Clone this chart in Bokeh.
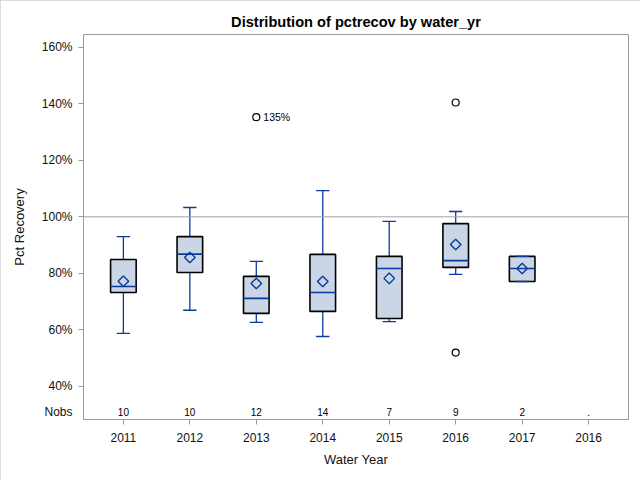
import numpy as np
from bokeh.plotting import figure
from bokeh.models import Range1d, FixedTicker, Span, ColumnDataSource
from bokeh.embed import file_html
from bokeh.resources import INLINE
from bokeh.core.properties import value

# ---- data ----
year_labels = ["2011", "2012", "2013", "2014", "2015", "2016", "2017", "2016"]
positions = [1, 2, 3, 4, 5, 6, 7, 8]
box_pos = [1, 2, 3, 4, 5, 6, 7]
q1 = [73.2, 80.3, 65.8, 66.5, 64.0, 82.1, 77.1]
median = [75.3, 86.8, 71.1, 73.2, 81.7, 84.5, 81.7]
q3 = [84.9, 93.0, 78.9, 86.7, 86.0, 97.6, 86.0]
whisk_lo = [58.7, 66.9, 62.6, 57.6, 62.9, 79.6, 77.1]
whisk_hi = [93.0, 103.3, 84.2, 109.3, 98.4, 101.9, 86.0]
means = [77.2, 85.6, 76.4, 77.1, 78.2, 90.2, 81.7]
out_x = [3, 6, 6]
out_y = [135.3, 140.5, 51.9]
nobs = ["10", "10", "12", "14", "7", "9", "2", "."]
y_ticks = [40, 60, 80, 100, 120, 140, 160]
NOBS_Y = 30.9

BLUE = "#0B3A9E"
FILL = "#CAD5E5"
GRAY = "#9A9A9A"
FONT = "Liberation Sans"
BOXW = 0.385
CAPW = 0.2

p = figure(width=640, height=480, output_backend="svg", toolbar_location=None,
           x_range=Range1d(0.4, 8.6), y_range=Range1d(28.2, 164.6),
           min_border_left=83, min_border_right=12, min_border_top=34, min_border_bottom=61,
           title="Distribution of pctrecov by water_yr")
p.styles = {"outline": "1px solid #CFCFCF", "outline-offset": "-1px"}
p.title.align = "center"
p.title.text_font = FONT
p.title.text_font_size = "14.6px"
p.title.text_font_style = "bold"
p.title.text_color = "black"
p.title.offset = 0
p.title.standoff = 9

p.grid.visible = False
p.outline_line_color = GRAY
p.outline_line_width = 1
p.background_fill_color = "white"
p.border_fill_color = "white"

p.xaxis.ticker = FixedTicker(ticks=positions)
p.xaxis.major_label_overrides = {pos: lab for pos, lab in zip(positions, year_labels)}
# "Nobs" row label is a tick label without a tick mark: major ticks hidden,
# the visible tick marks are the minor ticks at the percentage values
p.yaxis.ticker = FixedTicker(ticks=[NOBS_Y] + y_ticks, minor_ticks=y_ticks)
p.yaxis.major_label_overrides = {NOBS_Y: "Nobs", **{t: f"{t}%" for t in y_ticks}}
for ax in (p.xaxis[0], p.yaxis[0]):
    ax.axis_line_color = GRAY
    ax.major_tick_line_color = GRAY
    ax.major_tick_out = 5
    ax.major_tick_in = 0
    ax.minor_tick_line_color = None
    ax.major_label_text_font = FONT
    ax.major_label_text_font_size = "12px"
    ax.major_label_text_color = "#111111"
    ax.axis_label_text_font = FONT
    ax.axis_label_text_font_size = "13px"
    ax.axis_label_text_font_style = "normal"
    ax.axis_label_text_color = "#111111"
p.yaxis.major_tick_line_color = None
p.yaxis.minor_tick_line_color = GRAY
p.yaxis.minor_tick_out = 5
p.yaxis.minor_tick_in = 0
p.xaxis.axis_label = "Water Year"
p.yaxis.axis_label = "Pct Recovery"
p.xaxis.major_label_standoff = 8
p.xaxis.axis_label_standoff = 7
p.yaxis.major_label_standoff = 6
p.yaxis.axis_label_standoff = 12

# reference line at 100%
p.add_layout(Span(location=100, dimension="width", line_color="#A0A0A0", line_width=1))

src = ColumnDataSource(dict(x=box_pos, q1=q1, med=median, q3=q3, lo=whisk_lo, hi=whisk_hi, mean=means,
                            xl=[x - BOXW / 2 for x in box_pos], xr=[x + BOXW / 2 for x in box_pos],
                            cl=[x - CAPW / 2 for x in box_pos], cr=[x + CAPW / 2 for x in box_pos]))

# whiskers
p.segment(x0="x", y0="q3", x1="x", y1="hi", source=src, line_color=BLUE, line_width=1.3)
p.segment(x0="x", y0="q1", x1="x", y1="lo", source=src, line_color=BLUE, line_width=1.3)
# boxes
p.vbar(x="x", bottom="q1", top="q3", width=BOXW, source=src, fill_color=FILL,
       line_color="black", line_width=1.6)
# medians
p.segment(x0="xl", y0="med", x1="xr", y1="med", source=src, line_color=BLUE, line_width=1.6)
# caps
p.segment(x0="cl", y0="hi", x1="cr", y1="hi", source=src, line_color=BLUE, line_width=1.3)
p.segment(x0="cl", y0="lo", x1="cr", y1="lo", source=src, line_color=BLUE, line_width=1.3)
# means
p.scatter(x="x", y="mean", source=src, marker="square", angle=np.pi / 4, size=7.5,
          fill_color=None, line_color=BLUE, line_width=1.4)
# outliers
p.scatter(out_x, out_y, marker="circle", size=7, fill_color=None, line_color="black", line_width=1.2)
p.text(x=[out_x[0]], y=[out_y[0]], text=[f"{round(out_y[0])}%"], x_offset=7,
       text_font=value(FONT), text_font_size="10.5px", text_align="left",
       text_baseline="middle", text_color="black")

# Nobs row
p.text(x=positions, y=[NOBS_Y] * len(positions), text=nobs, text_font=value(FONT),
       text_font_size="10px", text_align="center", text_baseline="middle", text_color="black")

open("out.html", "w").write(file_html(p, INLINE))
